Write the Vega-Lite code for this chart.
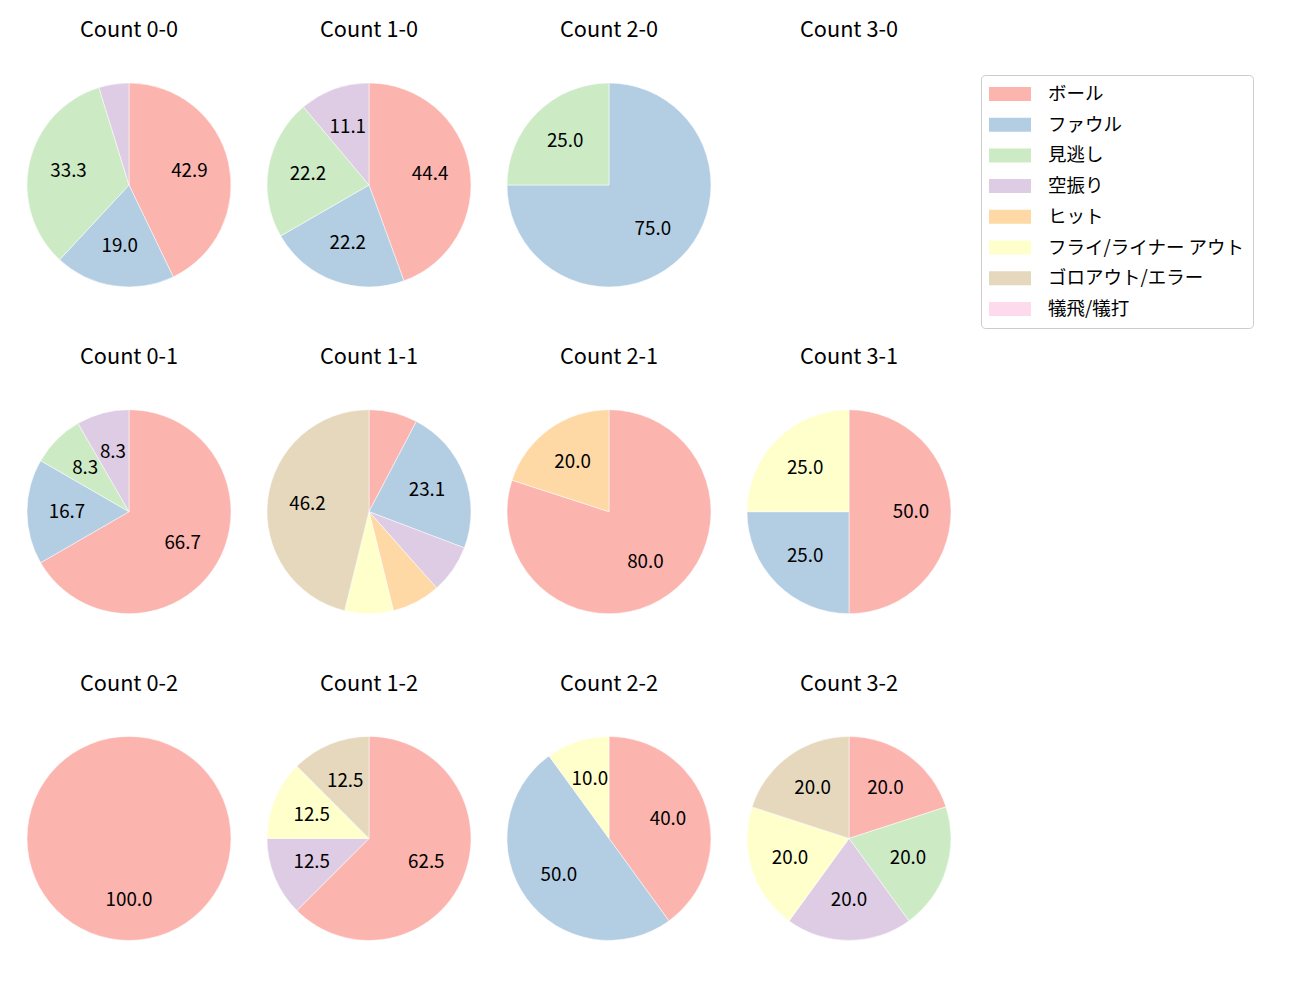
{
  "$schema": "https://vega.github.io/schema/vega-lite/v6.json",
  "background": "white",
  "padding": {"left": 24, "top": 20, "right": 5, "bottom": 5},
  "data": {"values": [
    {"count": "Count 0-0", "cat": "ボール", "i": 0, "pct": 42.857},
    {"count": "Count 0-0", "cat": "ファウル", "i": 1, "pct": 19.048},
    {"count": "Count 0-0", "cat": "見逃し", "i": 2, "pct": 33.333},
    {"count": "Count 0-0", "cat": "空振り", "i": 3, "pct": 4.762},
    {"count": "Count 1-0", "cat": "ボール", "i": 0, "pct": 44.444},
    {"count": "Count 1-0", "cat": "ファウル", "i": 1, "pct": 22.222},
    {"count": "Count 1-0", "cat": "見逃し", "i": 2, "pct": 22.222},
    {"count": "Count 1-0", "cat": "空振り", "i": 3, "pct": 11.111},
    {"count": "Count 2-0", "cat": "ファウル", "i": 1, "pct": 75.0},
    {"count": "Count 2-0", "cat": "見逃し", "i": 2, "pct": 25.0},
    {"count": "Count 3-0", "cat": "ボール", "i": 0, "pct": 0},
    {"count": "Count 0-1", "cat": "ボール", "i": 0, "pct": 66.667},
    {"count": "Count 0-1", "cat": "ファウル", "i": 1, "pct": 16.667},
    {"count": "Count 0-1", "cat": "見逃し", "i": 2, "pct": 8.333},
    {"count": "Count 0-1", "cat": "空振り", "i": 3, "pct": 8.333},
    {"count": "Count 1-1", "cat": "ボール", "i": 0, "pct": 7.692},
    {"count": "Count 1-1", "cat": "ファウル", "i": 1, "pct": 23.077},
    {"count": "Count 1-1", "cat": "空振り", "i": 3, "pct": 7.692},
    {"count": "Count 1-1", "cat": "ヒット", "i": 4, "pct": 7.692},
    {"count": "Count 1-1", "cat": "フライ/ライナー アウト", "i": 5, "pct": 7.692},
    {"count": "Count 1-1", "cat": "ゴロアウト/エラー", "i": 6, "pct": 46.154},
    {"count": "Count 2-1", "cat": "ボール", "i": 0, "pct": 80.0},
    {"count": "Count 2-1", "cat": "ヒット", "i": 4, "pct": 20.0},
    {"count": "Count 3-1", "cat": "ボール", "i": 0, "pct": 50.0},
    {"count": "Count 3-1", "cat": "ファウル", "i": 1, "pct": 25.0},
    {"count": "Count 3-1", "cat": "フライ/ライナー アウト", "i": 5, "pct": 25.0},
    {"count": "Count 0-2", "cat": "ボール", "i": 0, "pct": 100.0},
    {"count": "Count 1-2", "cat": "ボール", "i": 0, "pct": 62.5},
    {"count": "Count 1-2", "cat": "空振り", "i": 3, "pct": 12.5},
    {"count": "Count 1-2", "cat": "フライ/ライナー アウト", "i": 5, "pct": 12.5},
    {"count": "Count 1-2", "cat": "ゴロアウト/エラー", "i": 6, "pct": 12.5},
    {"count": "Count 2-2", "cat": "ボール", "i": 0, "pct": 40.0},
    {"count": "Count 2-2", "cat": "ファウル", "i": 1, "pct": 50.0},
    {"count": "Count 2-2", "cat": "フライ/ライナー アウト", "i": 5, "pct": 10.0},
    {"count": "Count 3-2", "cat": "ボール", "i": 0, "pct": 20.0},
    {"count": "Count 3-2", "cat": "見逃し", "i": 2, "pct": 20.0},
    {"count": "Count 3-2", "cat": "空振り", "i": 3, "pct": 20.0},
    {"count": "Count 3-2", "cat": "フライ/ライナー アウト", "i": 5, "pct": 20.0},
    {"count": "Count 3-2", "cat": "ゴロアウト/エラー", "i": 6, "pct": 20.0}
  ]},
  "facet": {
    "field": "count",
    "type": "nominal",
    "sort": ["Count 0-0", "Count 1-0", "Count 2-0", "Count 3-0", "Count 0-1", "Count 1-1", "Count 2-1", "Count 3-1", "Count 0-2", "Count 1-2", "Count 2-2", "Count 3-2"],
    "header": {"title": null, "labelFontSize": 21.7, "labelFont": "Noto Sans CJK JP", "labelColor": "black", "labelPadding": 38}
  },
  "columns": 4,
  "spacing": {"row": 56.7, "column": 30},
  "spec": {
    "width": 210,
    "height": 210,
    "encoding": {
      "theta": {"field": "pct", "type": "quantitative", "stack": true, "scale": {"domain": [0, 100]}},
      "order": {"field": "i", "type": "quantitative"}
    },
    "layer": [
      {
        "mark": {"type": "arc", "outerRadius": 102, "stroke": "white", "strokeWidth": 0.5},
        "encoding": {
          "color": {
            "field": "cat",
            "type": "nominal",
            "scale": {
              "domain": ["ボール", "ファウル", "見逃し", "空振り", "ヒット", "フライ/ライナー アウト", "ゴロアウト/エラー", "犠飛/犠打"],
              "range": ["#fbb4ae", "#b3cde3", "#ccebc5", "#decbe4", "#fed9a6", "#ffffcc", "#e5d8bd", "#fddaec"]
            },
            "legend": {
              "title": null,
              "orient": "none",
              "legendX": 957,
              "legendY": -5,
              "symbolType": "M-1,-0.333H1V0.333H-1Z",
              "symbolSize": 1764,
              "symbolStrokeWidth": 0,
              "symbolOpacity": 1,
              "labelFont": "Noto Sans CJK JP",
              "labelFontSize": 18.5,
              "labelColor": "black",
              "labelOffset": 17,
              "labelLimit": 400,
              "clipHeight": 22,
              "rowPadding": 8.7,
              "padding": 8,
              "strokeColor": "#cccccc",
              "fillColor": "white",
              "cornerRadius": 4
            }
          }
        }
      },
      {
        "mark": {"type": "text", "radius": 62, "fontSize": 18.8, "font": "Noto Sans CJK JP"},
        "encoding": {
          "text": {"field": "pct", "type": "quantitative", "format": ".1f"},
          "color": {"value": "black"},
          "opacity": {"condition": {"test": "datum.pct < 8", "value": 0}, "value": 1}
        }
      }
    ]
  },
  "config": {"view": {"stroke": null}}
}
